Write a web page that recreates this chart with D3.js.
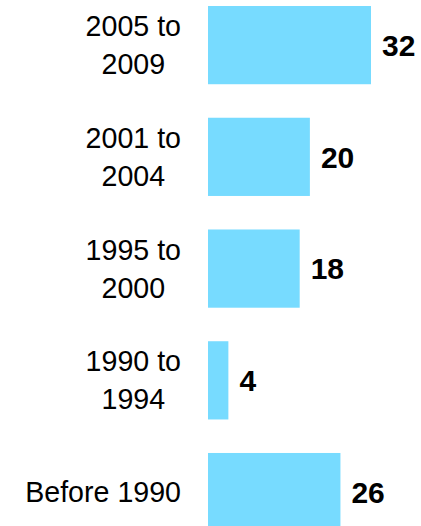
<!DOCTYPE html>
<html>
<head>
<meta charset="utf-8">
<script src="https://cdn.jsdelivr.net/npm/d3@7"></script>
<style>
  body { margin: 0; background: #fff; }
  svg { display: block; font-family: "Liberation Sans", Arial, sans-serif; }
</style>
</head>
<body>
<svg id="chart" width="421" height="526"></svg>
<script>
const categories = ['2005 to\n2009', '2001 to\n2004', '1995 to\n2000', '1990 to\n1994', 'Before 1990']
const values = [32, 20, 18, 4, 26]

const svg = d3.select('#chart')

const y = d3.scaleBand()
    .domain(categories)
    .range([6, 531.2])
    .paddingInner(0.3)
    .paddingOuter(0)

const x = d3.scaleLinear()
    .domain([0, 32])
    .range([208, 371])

const rows = svg.selectAll('g.row')
  .data(categories.map((c, i) => ({ cat: c, value: values[i] })))
  .join('g')
    .attr('class', 'row')

rows.append('rect')
    .attr('x', x(0))
    .attr('y', d => y(d.cat))
    .attr('width', d => x(d.value) - x(0))
    .attr('height', y.bandwidth())
    .attr('fill', '#77dbff')

rows.append('text')
    .attr('x', d => x(d.value) + 11)
    .attr('y', d => y(d.cat) + y.bandwidth() / 2)
    .attr('dy', '0.36em')
    .attr('font-size', 30)
    .attr('font-weight', 'bold')
    .attr('fill', '#000')
    .text(d => d.value)

// category labels: block right-aligned, lines centred inside it
const labelRight = 181
const lineHeight = 38

rows.each(function(d) {
  const lines = d.cat.split('\n')
  const c = y(d.cat) + y.bandwidth() / 2
  const label = d3.select(this).append('text')
      .attr('font-size', 28.6)
      .attr('text-anchor', 'middle')
      .attr('fill', '#000')
  const spans = lines.map((line, k) => label.append('tspan')
      .attr('x', 0)
      .attr('y', c + (k - (lines.length - 1) / 2) * lineHeight + 10)
      .text(line))
  const w = d3.max(spans, s => s.node().getComputedTextLength())
  spans.forEach(s => s.attr('x', labelRight - w / 2))
})
</script>
</body>
</html>
